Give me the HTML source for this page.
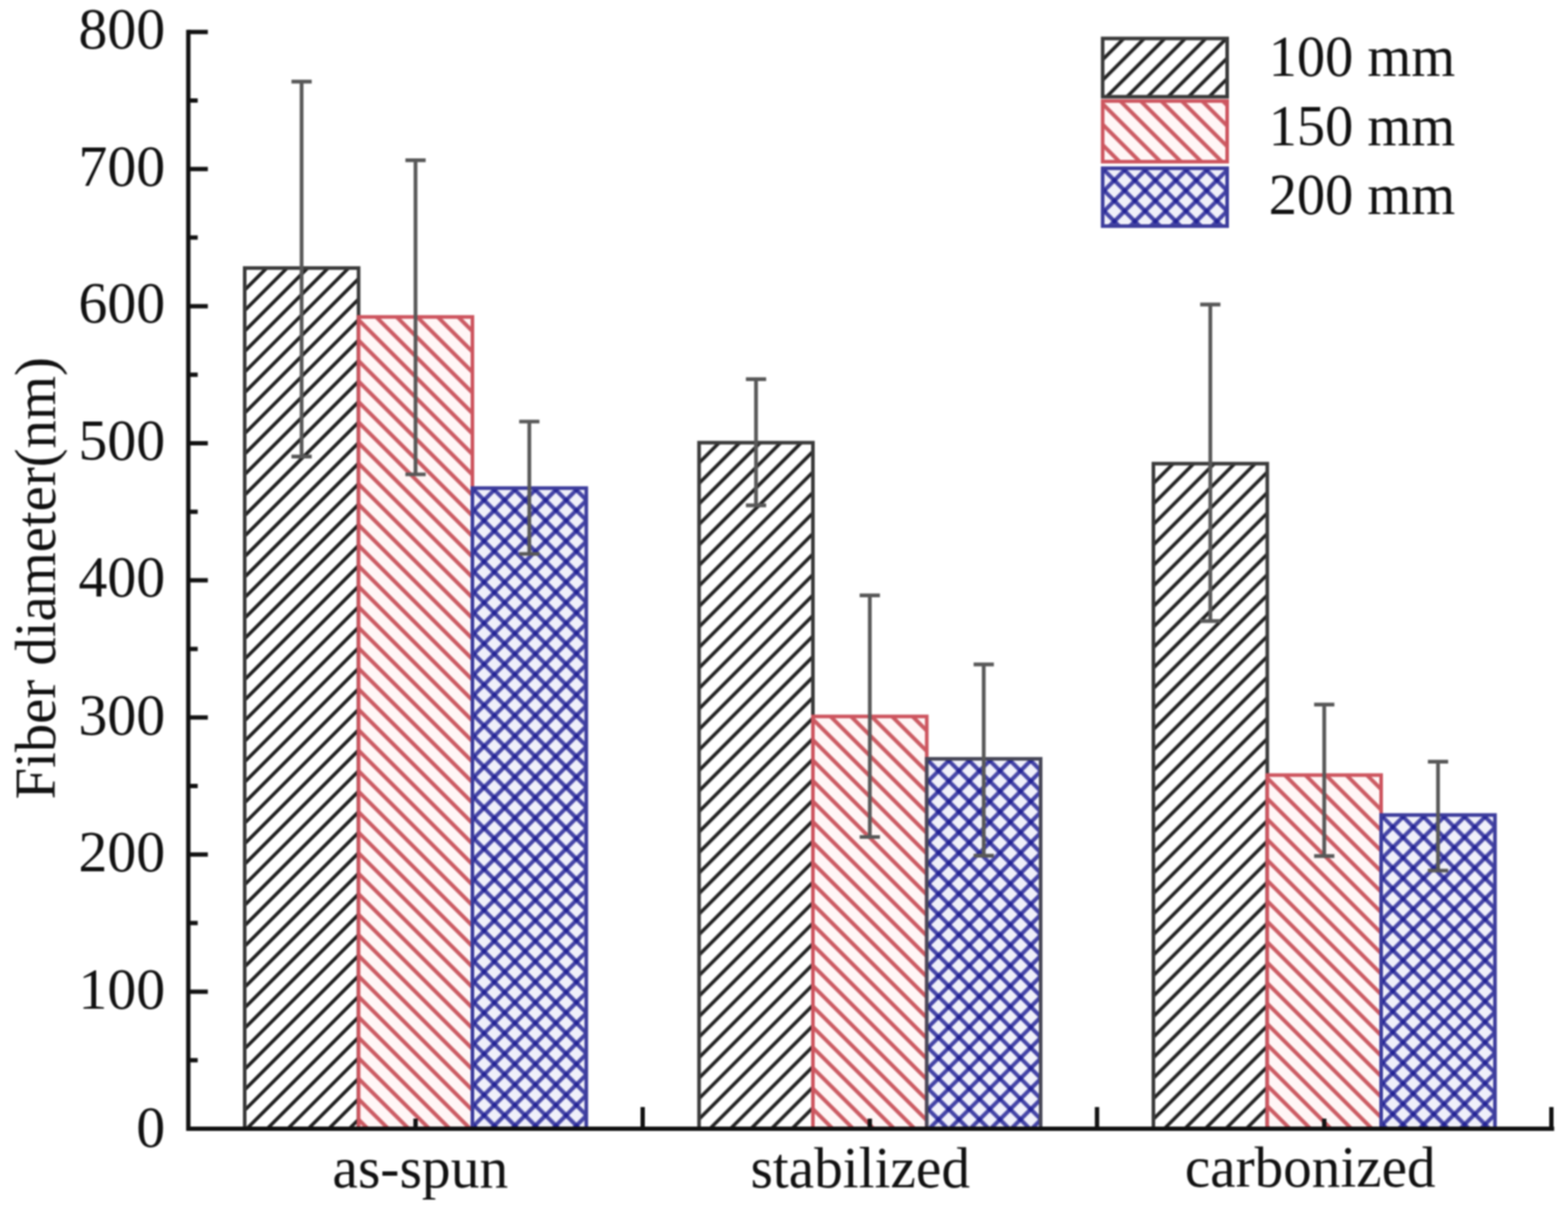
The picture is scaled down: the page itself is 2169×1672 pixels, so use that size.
<!DOCTYPE html>
<html><head><meta charset="utf-8"><title>Fiber diameter</title><style>
html,body{margin:0;padding:0;background:#fff;overflow:hidden;}
svg{display:block;filter:blur(0.8px);}
text{font-family:"Liberation Serif","Times New Roman",serif;fill:#111;}
</style></head><body>
<svg width="2169" height="1672" viewBox="0 0 2169 1672">
<defs>
<pattern id="p1" patternUnits="userSpaceOnUse" width="10" height="20.0535" patternTransform="translate(338.50 370.70) rotate(-45)"><rect x="0" y="19.068" width="10" height="4.8" fill="#202020"/><rect x="0" y="-0.986" width="10" height="4.8" fill="#202020"/></pattern>
<pattern id="p2" patternUnits="userSpaceOnUse" width="10" height="20.0535" patternTransform="translate(496.00 438.30) rotate(45)"><rect x="0" y="0.128" width="10" height="5.4" fill="#cb5a62"/><rect x="0" y="-19.925" width="10" height="5.4" fill="#cb5a62"/></pattern>
<pattern id="p3" patternUnits="userSpaceOnUse" width="10" height="20.0535" patternTransform="translate(653.50 675.00) rotate(-45)"><rect x="0" y="0.382" width="10" height="5.6" fill="#191991" fill-opacity="0.8"/><rect x="0" y="-19.672" width="10" height="5.6" fill="#191991" fill-opacity="0.8"/></pattern>
<pattern id="p4" patternUnits="userSpaceOnUse" width="10" height="20.0535" patternTransform="translate(653.50 675.00) rotate(45)"><rect x="0" y="17.607" width="10" height="5.6" fill="#191991" fill-opacity="0.8"/><rect x="0" y="-2.446" width="10" height="5.6" fill="#191991" fill-opacity="0.8"/></pattern>
<pattern id="p5" patternUnits="userSpaceOnUse" width="10" height="20.0535" patternTransform="translate(967.00 612.20) rotate(-45)"><rect x="0" y="17.371" width="10" height="4.8" fill="#202020"/><rect x="0" y="-2.683" width="10" height="4.8" fill="#202020"/></pattern>
<pattern id="p6" patternUnits="userSpaceOnUse" width="10" height="20.0535" patternTransform="translate(1124.50 990.80) rotate(45)"><rect x="0" y="0.128" width="10" height="5.4" fill="#cb5a62"/><rect x="0" y="-19.925" width="10" height="5.4" fill="#cb5a62"/></pattern>
<pattern id="p7" patternUnits="userSpaceOnUse" width="10" height="20.0535" patternTransform="translate(1282.00 1049.40) rotate(-45)"><rect x="0" y="0.382" width="10" height="5.6" fill="#191991" fill-opacity="0.8"/><rect x="0" y="-19.672" width="10" height="5.6" fill="#191991" fill-opacity="0.8"/></pattern>
<pattern id="p8" patternUnits="userSpaceOnUse" width="10" height="20.0535" patternTransform="translate(1282.00 1049.40) rotate(45)"><rect x="0" y="17.607" width="10" height="5.6" fill="#191991" fill-opacity="0.8"/><rect x="0" y="-2.446" width="10" height="5.6" fill="#191991" fill-opacity="0.8"/></pattern>
<pattern id="p9" patternUnits="userSpaceOnUse" width="10" height="20.0535" patternTransform="translate(1595.50 641.20) rotate(-45)"><rect x="0" y="16.946" width="10" height="4.8" fill="#202020"/><rect x="0" y="-3.107" width="10" height="4.8" fill="#202020"/></pattern>
<pattern id="p10" patternUnits="userSpaceOnUse" width="10" height="20.0535" patternTransform="translate(1753.00 1071.90) rotate(45)"><rect x="0" y="0.128" width="10" height="5.4" fill="#cb5a62"/><rect x="0" y="-19.925" width="10" height="5.4" fill="#cb5a62"/></pattern>
<pattern id="p11" patternUnits="userSpaceOnUse" width="10" height="20.0535" patternTransform="translate(1910.50 1127.10) rotate(-45)"><rect x="0" y="0.382" width="10" height="5.6" fill="#191991" fill-opacity="0.8"/><rect x="0" y="-19.672" width="10" height="5.6" fill="#191991" fill-opacity="0.8"/></pattern>
<pattern id="p12" patternUnits="userSpaceOnUse" width="10" height="20.0535" patternTransform="translate(1910.50 1127.10) rotate(45)"><rect x="0" y="17.607" width="10" height="5.6" fill="#191991" fill-opacity="0.8"/><rect x="0" y="-2.446" width="10" height="5.6" fill="#191991" fill-opacity="0.8"/></pattern>
<pattern id="p13" patternUnits="userSpaceOnUse" width="10" height="20.0535" patternTransform="translate(1525.30 53.20) rotate(-45)"><rect x="0" y="18.361" width="10" height="4.8" fill="#202020"/><rect x="0" y="-1.693" width="10" height="4.8" fill="#202020"/></pattern>
<pattern id="p14" patternUnits="userSpaceOnUse" width="10" height="20.0535" patternTransform="translate(1525.30 139.70) rotate(45)"><rect x="0" y="0.128" width="10" height="5.4" fill="#cb5a62"/><rect x="0" y="-19.925" width="10" height="5.4" fill="#cb5a62"/></pattern>
<pattern id="p15" patternUnits="userSpaceOnUse" width="10" height="20.0535" patternTransform="translate(1525.30 232.70) rotate(-45)"><rect x="0" y="0.382" width="10" height="5.6" fill="#191991" fill-opacity="0.8"/><rect x="0" y="-19.672" width="10" height="5.6" fill="#191991" fill-opacity="0.8"/></pattern>
<pattern id="p16" patternUnits="userSpaceOnUse" width="10" height="20.0535" patternTransform="translate(1525.30 232.70) rotate(45)"><rect x="0" y="17.607" width="10" height="5.6" fill="#191991" fill-opacity="0.8"/><rect x="0" y="-2.446" width="10" height="5.6" fill="#191991" fill-opacity="0.8"/></pattern>
</defs>
<rect width="100%" height="100%" fill="#fff"/>
<rect x="338.5" y="370.7" width="157.5" height="1190.3" fill="url(#p1)"/><rect x="338.5" y="370.7" width="157.5" height="1190.3" fill="none" stroke="#3a3a3a" stroke-width="5"/>
<rect x="496.0" y="438.3" width="157.5" height="1122.7" fill="#fff6f6"/><rect x="496.0" y="438.3" width="157.5" height="1122.7" fill="url(#p2)"/><rect x="496.0" y="438.3" width="157.5" height="1122.7" fill="none" stroke="#cd555f" stroke-width="5"/>
<rect x="653.5" y="675.0" width="157.5" height="886.0" fill="#f0f0fa"/><rect x="653.5" y="675.0" width="157.5" height="886.0" fill="url(#p3)"/><rect x="653.5" y="675.0" width="157.5" height="886.0" fill="url(#p4)"/><rect x="653.5" y="675.0" width="157.5" height="886.0" fill="none" stroke="#3c3c9c" stroke-width="5"/>
<rect x="967.0" y="612.2" width="157.5" height="948.8" fill="url(#p5)"/><rect x="967.0" y="612.2" width="157.5" height="948.8" fill="none" stroke="#3a3a3a" stroke-width="5"/>
<rect x="1124.5" y="990.8" width="157.5" height="570.2" fill="#fff6f6"/><rect x="1124.5" y="990.8" width="157.5" height="570.2" fill="url(#p6)"/><rect x="1124.5" y="990.8" width="157.5" height="570.2" fill="none" stroke="#cd555f" stroke-width="5"/>
<rect x="1282.0" y="1049.4" width="157.5" height="511.6" fill="#f0f0fa"/><rect x="1282.0" y="1049.4" width="157.5" height="511.6" fill="url(#p7)"/><rect x="1282.0" y="1049.4" width="157.5" height="511.6" fill="url(#p8)"/><rect x="1282.0" y="1049.4" width="157.5" height="511.6" fill="none" stroke="#484858" stroke-width="5"/>
<rect x="1595.5" y="641.2" width="157.5" height="919.8" fill="url(#p9)"/><rect x="1595.5" y="641.2" width="157.5" height="919.8" fill="none" stroke="#3a3a3a" stroke-width="5"/>
<rect x="1753.0" y="1071.9" width="157.5" height="489.1" fill="#fff6f6"/><rect x="1753.0" y="1071.9" width="157.5" height="489.1" fill="url(#p10)"/><rect x="1753.0" y="1071.9" width="157.5" height="489.1" fill="none" stroke="#cd555f" stroke-width="5"/>
<rect x="1910.5" y="1127.1" width="157.5" height="433.9" fill="#f0f0fa"/><rect x="1910.5" y="1127.1" width="157.5" height="433.9" fill="url(#p11)"/><rect x="1910.5" y="1127.1" width="157.5" height="433.9" fill="url(#p12)"/><rect x="1910.5" y="1127.1" width="157.5" height="433.9" fill="none" stroke="#3c3c9c" stroke-width="5"/>
<path d="M417.2 112.8V631.3M403.2 112.8H431.2M403.2 631.3H431.2" stroke="#585858" stroke-width="5.2" fill="none"/>
<path d="M574.8 221.7V656.0M560.8 221.7H588.8M560.8 656.0H588.8" stroke="#585858" stroke-width="5.2" fill="none"/>
<path d="M732.2 583.0V766.0M718.2 583.0H746.2M718.2 766.0H746.2" stroke="#585858" stroke-width="5.2" fill="none"/>
<path d="M1045.8 524.3V698.9M1031.8 524.3H1059.8M1031.8 698.9H1059.8" stroke="#585858" stroke-width="5.2" fill="none"/>
<path d="M1203.2 823.3V1157.5M1189.2 823.3H1217.2M1189.2 1157.5H1217.2" stroke="#585858" stroke-width="5.2" fill="none"/>
<path d="M1360.8 918.8V1183.4M1346.8 918.8H1374.8M1346.8 1183.4H1374.8" stroke="#585858" stroke-width="5.2" fill="none"/>
<path d="M1674.2 421.1V858.8M1660.2 421.1H1688.2M1660.2 858.8H1688.2" stroke="#585858" stroke-width="5.2" fill="none"/>
<path d="M1831.8 974.4V1183.9M1817.8 974.4H1845.8M1817.8 1183.9H1845.8" stroke="#585858" stroke-width="5.2" fill="none"/>
<path d="M1989.2 1053.3V1204.0M1975.2 1053.3H2003.2M1975.2 1204.0H2003.2" stroke="#585858" stroke-width="5.2" fill="none"/>
<path d="M260.5 44.2V1561.0H2146.8" stroke="#111" stroke-width="6" fill="none" stroke-linecap="square"/>
<path d="M260.5 1561.0h27M260.5 1371.4h27M260.5 1181.8h27M260.5 992.2h27M260.5 802.6h27M260.5 613.0h27M260.5 423.4h27M260.5 233.8h27M260.5 44.2h27M260.5 1466.2h13M260.5 1276.6h13M260.5 1087.0h13M260.5 897.4h13M260.5 707.8h13M260.5 518.2h13M260.5 328.6h13M260.5 139.0h13M889.0 1561.0v-30M1517.5 1561.0v-30M2146.0 1561.0v-30M574.8 1561.0v-14M1203.2 1561.0v-14M1831.8 1561.0v-14" stroke="#111" stroke-width="6" fill="none"/>
<text transform="translate(228.5 1586.0)" font-size="80" text-anchor="end">0</text>
<text transform="translate(228.5 1394.9)" font-size="80" text-anchor="end">100</text>
<text transform="translate(228.5 1205.3)" font-size="80" text-anchor="end">200</text>
<text transform="translate(228.5 1015.7)" font-size="80" text-anchor="end">300</text>
<text transform="translate(228.5 825.4)" font-size="80" text-anchor="end">400</text>
<text transform="translate(228.5 635.8)" font-size="80" text-anchor="end">500</text>
<text transform="translate(228.5 446.2)" font-size="80" text-anchor="end">600</text>
<text transform="translate(228.5 256.6)" font-size="80" text-anchor="end">700</text>
<text transform="translate(228.5 67.0)" font-size="80" text-anchor="end">800</text>
<text transform="translate(581.4 1642.0) scale(0.9950 1)" font-size="80" text-anchor="middle">as-spun</text>
<text transform="translate(1190.0 1641.5) scale(0.9900 1)" font-size="80" text-anchor="middle">stabilized</text>
<text transform="translate(1812.4 1641.0) scale(0.9890 1)" font-size="80" text-anchor="middle">carbonized</text>
<text transform="translate(75.7 1105.5) rotate(-90) scale(0.9800 1)" font-size="80" text-anchor="start">Fiber diameter(nm)</text>
<rect x="1525.3" y="53.2" width="172.2" height="80.6" fill="url(#p13)"/><rect x="1525.3" y="53.2" width="172.2" height="80.6" fill="none" stroke="#3a3a3a" stroke-width="5"/>
<text transform="translate(1755.0 105.2) scale(0.9750 1)" font-size="80" text-anchor="start">100 mm</text>
<rect x="1525.3" y="139.7" width="172.2" height="83.9" fill="#fff6f6"/><rect x="1525.3" y="139.7" width="172.2" height="83.9" fill="url(#p14)"/><rect x="1525.3" y="139.7" width="172.2" height="83.9" fill="none" stroke="#cd555f" stroke-width="5"/>
<text transform="translate(1755.0 200.7) scale(0.9750 1)" font-size="80" text-anchor="start">150 mm</text>
<rect x="1525.3" y="232.7" width="172.2" height="80.0" fill="#f0f0fa"/><rect x="1525.3" y="232.7" width="172.2" height="80.0" fill="url(#p15)"/><rect x="1525.3" y="232.7" width="172.2" height="80.0" fill="url(#p16)"/><rect x="1525.3" y="232.7" width="172.2" height="80.0" fill="none" stroke="#3c3c9c" stroke-width="5"/>
<text transform="translate(1755.0 296.2) scale(0.9750 1)" font-size="80" text-anchor="start">200 mm</text>
</svg></body></html>
